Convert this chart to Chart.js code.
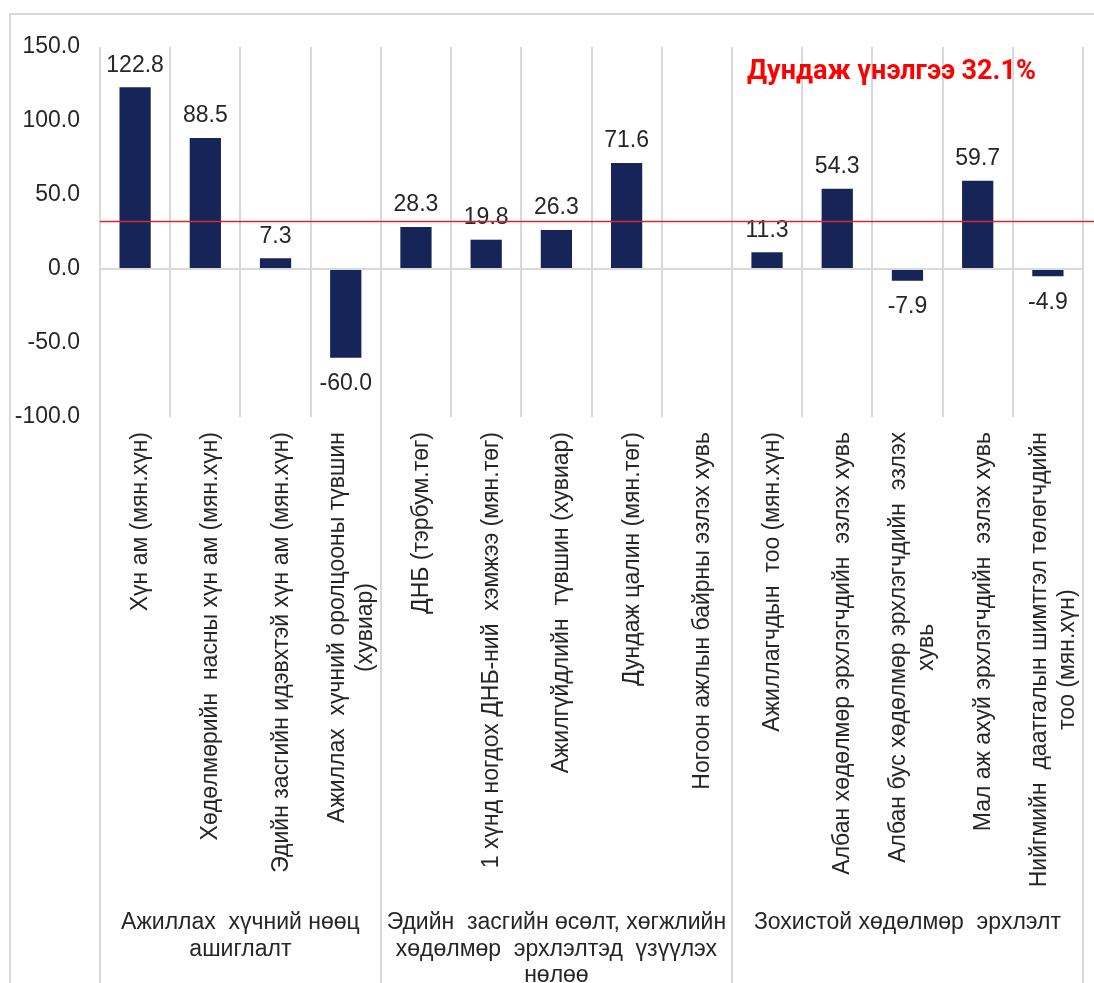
<!DOCTYPE html>
<html>
<head>
<meta charset="utf-8">
<script src="https://cdn.jsdelivr.net/npm/chart.js@4.4.1/dist/chart.umd.min.js"></script>
<style>
  html, body { margin: 0; padding: 0; background: #ffffff; }
  #wrap { position: relative; width: 1094px; height: 983px; overflow: hidden; }
  canvas { display: block; }
</style>
</head>
<body>
<div id="wrap"><canvas id="c" width="1094" height="983"></canvas></div>
<script>
// ---- data ----
const categories = [
  ["Хүн ам (мян.хүн)"],
  ["Хөдөлмөрийн  насны хүн ам (мян.хүн)"],
  ["Эдийн засгийн идэвхтэй хүн ам (мян.хүн)"],
  ["Ажиллах  хүчний оролцооны түвшин", "(хувиар)"],
  ["ДНБ (тэрбум.төг)"],
  ["1 хүнд ногдох ДНБ-ний  хэмжээ (мян.төг)"],
  ["Ажилгүйдлийн  түвшин (хувиар)"],
  ["Дундаж цалин (мян.төг)"],
  ["Ногоон ажлын байрны эзлэх хувь"],
  ["Ажиллагчдын  тоо (мян.хүн)"],
  ["Албан хөдөлмөр эрхлэгчдийн  эзлэх хувь"],
  ["Албан бус хөдөлмөр эрхлэгчдийн  эзлэх", "хувь"],
  ["Мал аж ахуй эрхлэгчдийн  эзлэх хувь"],
  ["Нийгмийн  даатгалын шимтгэл төлөгчдийн", "тоо (мян.хүн)"]
];
const values = [122.8, 88.5, 7.3, -60.0, 28.3, 19.8, 26.3, 71.6, null, 11.3, 54.3, -7.9, 59.7, -4.9];
const groupLabels = [
  ["Ажиллах  хүчний нөөц", "ашиглалт"],
  ["Эдийн  засгийн өсөлт, хөгжлийн", "хөдөлмөр  эрхлэлтэд  үзүүлэх", "нөлөө"],
  ["Зохистой хөдөлмөр  эрхлэлт"]
];
const groupSizes = [4, 5, 5];
const averageValue = 32.1;
const averageText = "Дундаж үнэлгээ 32.1%";
const yMin = -100, yMax = 150, yStep = 50;

// ---- styles ----
const FONT = "'Liberation Sans', Arial, sans-serif";
const TEXT_COLOR = '#262626';
const GRID_COLOR = '#d9d9d9';
const BAR_COLOR = '#172458';
const FS = 23;

const decorPlugin = {
  id: 'decor',
  beforeDraw(chart) {
    const ctx = chart.ctx;
    ctx.save();
    ctx.strokeStyle = GRID_COLOR;
    ctx.lineWidth = 2;
    ctx.beginPath();
    ctx.moveTo(10, chart.height + 5);
    ctx.lineTo(10, 14);
    ctx.lineTo(chart.width + 5, 14);
    ctx.stroke();
    ctx.restore();
  },
  afterDatasetsDraw(chart) {
    const ctx = chart.ctx;
    const ys = chart.scales.y;
    const meta = chart.getDatasetMeta(0);
    // value labels
    ctx.save();
    ctx.font = FS + 'px ' + FONT;
    ctx.fillStyle = TEXT_COLOR;
    ctx.textAlign = 'center';
    ctx.textBaseline = 'middle';
    meta.data.forEach((bar, i) => {
      const v = values[i];
      if (v === null || v === undefined) return;
      const y = v >= 0 ? bar.y - 22 : bar.y + 26;
      ctx.fillText(v.toFixed(1), bar.x, y);
    });
    ctx.restore();
    // average line
    const ay = ys.getPixelForValue(averageValue);
    ctx.save();
    ctx.strokeStyle = '#d9272e';
    ctx.lineWidth = 1.5;
    ctx.beginPath();
    ctx.moveTo(chart.chartArea.left, ay);
    ctx.lineTo(chart.width, ay);
    ctx.stroke();
    ctx.restore();
    // average text
    ctx.save();
    ctx.font = "bold 27px Roboto, 'Liberation Sans', sans-serif";
    ctx.fillStyle = '#ff0000';
    ctx.textAlign = 'left';
    ctx.textBaseline = 'alphabetic';
    ctx.fillText(averageText, 747, 79);
    ctx.restore();
  },
  afterDraw(chart) {
    const ctx = chart.ctx;
    const xs = chart.scales.x;
    const area = chart.chartArea;
    const catW = (area.right - area.left) / categories.length;
    // rotated category labels
    ctx.save();
    ctx.font = FS + 'px ' + FONT;
    ctx.fillStyle = TEXT_COLOR;
    ctx.textBaseline = 'alphabetic';
    const L = 28;
    const topY = area.bottom + 15;
    categories.forEach((lines, i) => {
      const cx = xs.getPixelForValue(i);
      const n = lines.length;
      const w0 = ctx.measureText(lines[0]).width;
      lines.forEach((ln, k) => {
        const bx = cx + 12 - (n - 1) * L / 2 + k * L;
        ctx.save();
        ctx.translate(bx, topY);
        ctx.rotate(-Math.PI / 2);
        if (k === 0) {
          ctx.textAlign = 'right';
          ctx.fillText(ln, 0, 0);
        } else {
          ctx.textAlign = 'center';
          ctx.fillText(ln, -w0 / 2, 0);
        }
        ctx.restore();
      });
    });
    ctx.restore();
    // group separators and labels
    ctx.save();
    ctx.strokeStyle = GRID_COLOR;
    ctx.lineWidth = 2;
    let start = 0;
    const bounds = [start];
    groupSizes.forEach(s => { start += s; bounds.push(start); });
    bounds.forEach(b => {
      const x = Math.round(area.left + b * catW);
      ctx.beginPath();
      ctx.moveTo(x, area.bottom);
      ctx.lineTo(x, chart.height);
      ctx.stroke();
    });
    ctx.font = FS + 'px ' + FONT;
    ctx.fillStyle = TEXT_COLOR;
    ctx.textAlign = 'center';
    ctx.textBaseline = 'alphabetic';
    groupLabels.forEach((lines, g) => {
      const x0 = area.left + bounds[g] * catW;
      const x1 = area.left + bounds[g + 1] * catW;
      const cx = (x0 + x1) / 2;
      lines.forEach((ln, k) => {
        ctx.fillText(ln, cx, 929 + k * 26.5);
      });
    });
    ctx.restore();
  }
};

new Chart(document.getElementById('c'), {
  type: 'bar',
  data: {
    labels: categories.map(c => c.join(' ')),
    datasets: [{
      data: values,
      backgroundColor: BAR_COLOR,
      borderWidth: 0,
      barPercentage: 0.445,
      categoryPercentage: 1.0
    }]
  },
  options: {
    responsive: false,
    animation: false,
    devicePixelRatio: 1,
    layout: { padding: { left: 0, right: 11, top: 47, bottom: 0 } },
    plugins: {
      legend: { display: false },
      tooltip: { enabled: false },
      title: { display: false }
    },
    scales: {
      x: {
        offset: true,
        grid: {
          display: true,
          offset: true,
          color: GRID_COLOR,
          lineWidth: 2,
          drawTicks: false
        },
        border: { display: false },
        ticks: { display: false },
        afterFit(scale) { scale.height = 566; }
      },
      y: {
        min: yMin,
        max: yMax,
        ticks: {
          stepSize: yStep,
          padding: 20,
          color: TEXT_COLOR,
          font: { family: FONT, size: FS },
          callback: v => Number(v).toFixed(1)
        },
        grid: {
          drawTicks: false,
          lineWidth: 2,
          color: c => (c.tick && c.tick.value === 0) ? GRID_COLOR : 'rgba(0,0,0,0)'
        },
        border: { display: false },
        afterFit(scale) { scale.width = 100; }
      }
    }
  },
  plugins: [decorPlugin]
});
</script>
</body>
</html>
